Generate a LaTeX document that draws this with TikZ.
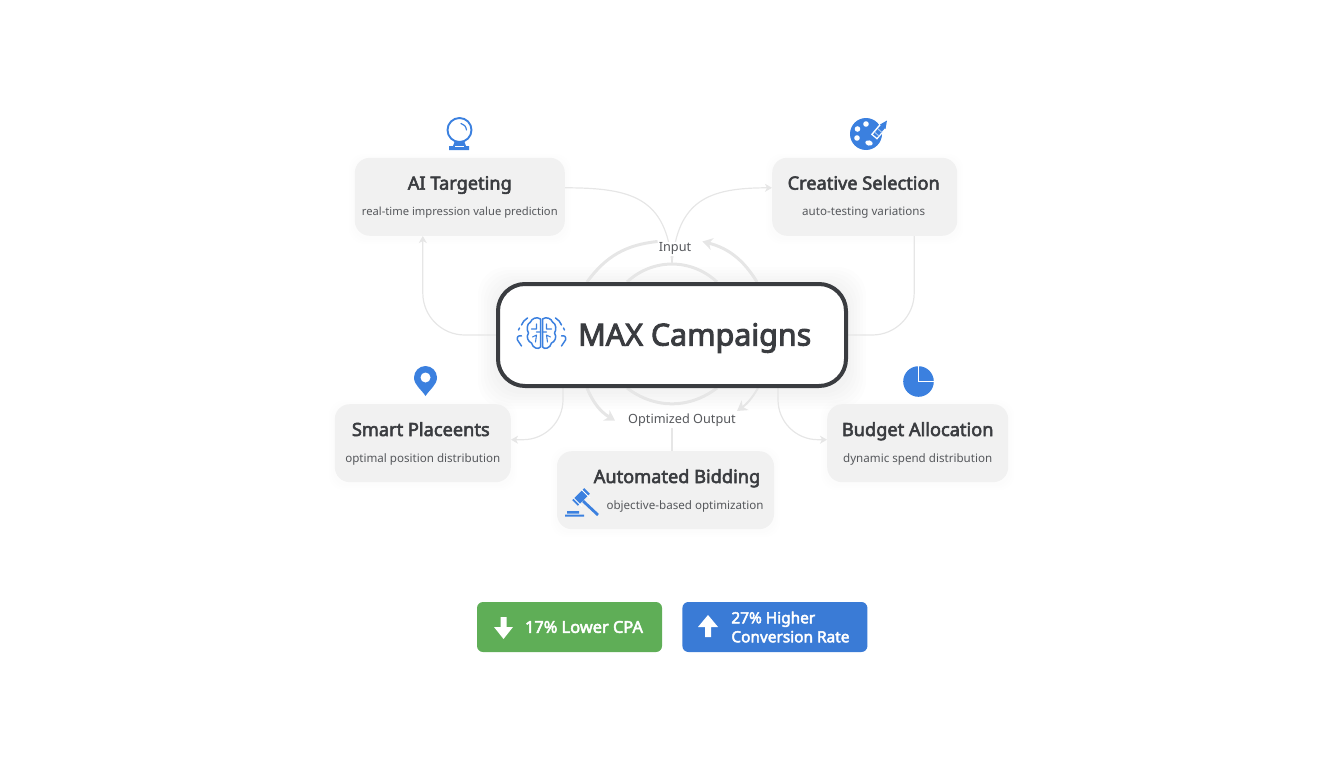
\documentclass[tikz,border=0pt]{standalone}
\usepackage{fontspec}
\setmainfont{Noto Sans}[AutoFakeBold=3]
\usetikzlibrary{positioning,arrows.meta,backgrounds}
\definecolor{inkdark}{HTML}{3A3C40}
\definecolor{inksub}{HTML}{56585C}
\definecolor{cardgray}{HTML}{F1F1F1}
\definecolor{flowgray}{HTML}{E6E6E6}
\definecolor{iconblue}{HTML}{3B80DF}
\definecolor{btngreen}{HTML}{5FAE57}
\definecolor{btnblue}{HTML}{3A7BD6}
\tikzset{
  cardbox/.style={fill=cardgray, rounded corners=15pt, minimum height=78pt, inner sep=0pt},
  cardtitle/.style={anchor=base, text=inkdark, inner sep=0pt, font=\fontsize{18.2}{22}\selectfont\bfseries},
  cardsub/.style={anchor=base, text=inksub, inner sep=0pt, font=\fontsize{11.6}{15}\selectfont},
  flowlabel/.style={fill=white, text=inksub, inner sep=1pt, font=\fontsize{12.7}{16}\selectfont},
  flowthin/.style={draw=flowgray, line width=1.2pt, -{Stealth[length=7pt,width=8pt,inset=2pt]}},
  flowplain/.style={draw=flowgray, line width=1.2pt},
  flowthick/.style={draw=flowgray, line width=3pt},
  flowtip/.style={flowthick, -{Stealth[length=10pt,width=12pt,inset=3pt]}},
  btnbox/.style={rounded corners=6pt, minimum width=185pt, minimum height=50pt, inner sep=0pt},
  btntext/.style={text=white, align=left, inner sep=0pt, font=\fontsize{15.4}{19}\selectfont\bfseries},
  brainline/.style={draw=iconblue, line width=1.5pt, line cap=round, line join=round},
}
\begin{document}
\begin{tikzpicture}[x=1pt, y=-1pt, node distance=16pt]
  \useasboundingbox (0,0) rectangle (1344,768);
  % hub and cards
  \node[draw=inkdark, line width=4pt, fill=white, rounded corners=27pt, minimum width=348pt, minimum height=102pt] (main) at (672,335) {};
  \node[cardbox, minimum width=210pt, above left=46pt and -69pt of main] (ai) {};
  \node[cardbox, minimum width=185pt, above right=46pt and -76pt of main] (creative) {};
  \node[cardbox, minimum width=176pt, below left=16pt and -15pt of main] (smart) {};
  \node[cardbox, minimum width=181pt, below right=16pt and -21pt of main] (budget) {};
  \node[cardbox, minimum width=217pt, below=63pt of main, xshift=-6.5pt] (auto) {};
  % card texts
  \node[cardtitle] (aititle) at ([yshift=-32pt]ai.north) {AI Targeting};
  \node[cardsub, font=\fontsize{11.2}{15}\selectfont] (aisub) at ([yshift=-58pt]ai.north) {real-time impression value prediction};
  \node[cardtitle] (creativetitle) at ([yshift=-32pt,xshift=-1pt]creative.north) {Creative Selection};
  \node[cardsub] (creativesub) at ([yshift=-58pt,xshift=-1pt]creative.north) {auto-testing variations};
  \node[cardtitle] (smarttitle) at ([yshift=-32pt,xshift=-2pt]smart.north) {Smart Placeents};
  \node[cardsub] (smartsub) at ([yshift=-58pt]smart.north) {optimal position distribution};
  \node[cardtitle] (budgettitle) at ([yshift=-32pt]budget.north) {Budget Allocation};
  \node[cardsub] (budgetsub) at ([yshift=-58pt]budget.north) {dynamic spend distribution};
  \node[cardtitle] (autotitle) at ([yshift=-32pt,xshift=11.5pt]auto.north) {Automated Bidding};
  \node[cardsub] (autosub) at ([yshift=-58pt,xshift=19.5pt]auto.north) {objective-based optimization};
  \node[text=inkdark, inner sep=0pt, font=\fontsize{30.4}{36}\selectfont\bfseries, right=82pt of main.west, yshift=-3pt] (maintitle) {MAX Campaigns};
  % labels
  \node[flowlabel, above=26pt of main, xshift=3pt] (input) {Input};
  \node[flowlabel, below=25pt of main, xshift=10pt] (output) {Optimized Output};
  \coordinate[above=18pt of main] (hubtop);
  % connectors
  \begin{scope}[on background layer]
    \foreach \gr in {3,6,9,12,15,18}
      \fill[black, opacity=.009, rounded corners=28pt] ([xshift=-\gr pt,yshift=\gr pt-3pt]main.north west) rectangle ([xshift=\gr pt,yshift=-\gr pt-3pt]main.south east);
    \foreach \card in {ai,creative,smart,budget,auto}
      \foreach \gr in {2,4,6}
        \fill[black, opacity=.004, rounded corners=16pt] ([xshift=-\gr pt,yshift=\gr pt-2pt]\card.north west) rectangle ([xshift=\gr pt,yshift=-\gr pt-2pt]\card.south east);
    \draw[flowplain] ([yshift=9pt]ai.east) to[out=0, in=95, looseness=1.3] (hubtop);
    \draw[flowthin] (hubtop) to[out=85, in=180, looseness=1.3] ([yshift=9pt]creative.west);
    \draw[flowthin, rounded corners=42pt] (main.west) -| ([xshift=-37pt]ai.south);
    \draw[flowplain, rounded corners=42pt] (main.east) -| ([xshift=49.5pt]creative.south);
    \draw[flowthin, rounded corners=40pt] ([xshift=-109pt]main.south) |- ([yshift=3.5pt]smart.east);
    \draw[flowthin, rounded corners=40pt] ([xshift=106pt]main.south) |- ([yshift=3.5pt]budget.west);
    \draw[flowplain] (output.south -| main.south) -- (auto.north -| main.south);
    \draw[flowthick] ([xshift=-85pt]main.north) to[bend left=24] (input.north west);
    \draw[flowtip] ([xshift=85pt]main.north) to[bend right=22] ([xshift=10pt]input.north east);
    \draw[flowthick] ([xshift=-45pt]main.north) to[bend left=43] ([xshift=45pt]main.north);
    \draw[flowthick] ([xshift=-45pt]main.south) to[bend right=37] ([xshift=45pt]main.south);
    \draw[flowtip] ([xshift=-85pt]main.south) to[bend right=18] ([xshift=-12pt]output.west);
    \draw[flowtip, line width=2pt] ([xshift=86pt]main.south) to[bend left=12] ([yshift=2pt]output.north east);
  \end{scope}
  % buttons
  \node[btnbox, fill=btngreen] (lower) at (569.5,627) {};
  \node[btnbox, fill=btnblue, right=20pt of lower] (higher) {};
  \node[btntext, font=\fontsize{16.4}{19}\selectfont\bfseries, right=48pt of lower.west] (lowertext) {17\% Lower CPA};
  \node[btntext, right=49pt of higher.west] (highertext) {27\% Higher\\Conversion Rate};
  \fill[white] (500.5,617) -- (506.5,617) -- (506.5,627) -- (513,627) -- (503.5,639) -- (494,627) -- (500.5,627) -- cycle;
  \fill[white] (705,637) -- (711,637) -- (711,627) -- (718,627) -- (708,615) -- (698,627) -- (705,627) -- cycle;
  % crystal ball
  \draw[iconblue, line width=1.9pt] (459.5,130) circle (12);
  \draw[iconblue, line width=1.2pt, line cap=round] (461,123.5) .. controls (464,124) and (466,126.5) .. (466.5,130);
  \fill[iconblue] (454.5,142) -- (464.5,142) -- (466,146) -- (469,146) -- (469,150) -- (449,150) -- (449,146) -- (453,146) -- cycle;
  \fill[white] (455,146.4) rectangle (464,147.4);
  % palette
  \fill[iconblue] (866,134) circle (16);
  \fill[white] (866,124) circle (2.8) (857.5,129) circle (2.8) (857,138) circle (2.8);
  \fill[white, rotate around={-15:(869,143)}] (869,143) ellipse (3.8 and 2.6);
  \draw[white, line width=8pt] (874,137) -- (885,124);
  \draw[iconblue, line width=5pt] (875,136) -- (883,126.5);
  \draw[iconblue!45, line width=1pt] (875,132.5) -- (879,136) (878,129) -- (882,132.5);
  \fill[iconblue] (880,124.5) -- (887,120.5) -- (885.5,129) -- cycle;
  % pin
  \fill[iconblue] (425.5,396) .. controls (421,389) and (414,385) .. (414,377.5) arc[start angle=180, end angle=360, radius=11.5] .. controls (437,385) and (430,389) .. (425.5,396) -- cycle;
  \fill[white] (425.5,377.5) circle (5);
  % pie
  \fill[iconblue] (918.5,381.5) circle (15.3);
  \draw[white, line width=1.4pt] (918.5,365) -- (918.5,381.5) -- (935,381.5);
  % gavel
  \draw[iconblue, line width=8pt] (575,503) -- (587,491);
  \draw[white, line width=1pt] (573.5,498) -- (582,506.5) (581.5,489.5) -- (590,498);
  \draw[iconblue, line width=2.8pt] (583,501) -- (598,515);
  \fill[iconblue] (567,511) rectangle (579,513.5) (565,514.5) rectangle (584,516.5);
  % brain
  \begin{scope}[shift={(541.5,333)}]
    \draw[brainline] (-1,-14) .. controls (-5,-17) and (-10,-14) .. (-11,-11) .. controls (-15,-9) and (-15,-3) .. (-13,0) .. controls (-16,4) and (-13,9) .. (-10,10) .. controls (-9,15) and (-3,17) .. (-1,14) -- cycle;
    \draw[brainline] (1,-14) .. controls (5,-17) and (10,-14) .. (11,-11) .. controls (15,-9) and (15,-3) .. (13,0) .. controls (16,4) and (13,9) .. (10,10) .. controls (9,15) and (3,17) .. (1,14) -- cycle;
    \draw[brainline, line width=1.1pt] (-10,-4) -- (-5,-4) -- (-5,-9) (-9,4) -- (-5,2) -- (-6,9) (-5,-1) -- (-1,-1);
    \draw[brainline, line width=1.1pt] (10,-4) -- (5,-4) -- (5,-9) (9,4) -- (5,2) -- (6,9) (5,-1) -- (1,-1);
    \draw[brainline] (-14,-15) .. controls (-17,-13) and (-19,-11) .. (-20,-8) (-22,-5) -- (-23,-3);
    \draw[brainline] (14,-15) .. controls (17,-13) and (19,-11) .. (20,-8) (22,-5) -- (23,-3);
    \draw[brainline] (-20,3) .. controls (-23,2) and (-25,4) .. (-24,7) .. controls (-23,9) and (-21,11) .. (-20,13);
    \draw[brainline] (20,3) .. controls (23,2) and (25,4) .. (24,7) .. controls (23,9) and (21,11) .. (20,13);
  \end{scope}
\end{tikzpicture}
\end{document}
